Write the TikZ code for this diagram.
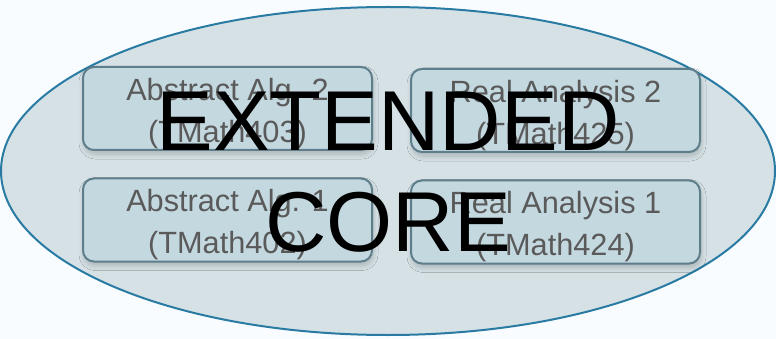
\documentclass[tikz,border=0pt]{standalone}
\usepackage{fontspec}
\setmainfont{Liberation Sans}
\usetikzlibrary{shapes.geometric,shadows.blur}
\definecolor{pagebg}{HTML}{F8FCFE}
\definecolor{corefill}{HTML}{D5E1E5}
\definecolor{coreline}{HTML}{2A7BA3}
\definecolor{coursefill}{HTML}{C4D8E0}
\definecolor{courseline}{HTML}{5F7E8B}
\definecolor{coursetext}{HTML}{5A5A5A}
\tikzset{
  coreshape/.style={ellipse, draw=coreline, fill=corefill, line width=2pt,
    minimum width=774pt, minimum height=328pt, inner sep=0pt},
  coursebox/.style={rounded corners=11pt, draw=courseline, fill=coursefill,
    line width=2pt, minimum width=289pt, minimum height=83pt, inner sep=0pt,
    blur shadow={shadow xshift=1pt, shadow yshift=-4pt, shadow blur steps=8,
      shadow opacity=20, shadow blur radius=5pt}},
  coursetitle/.style={text=coursetext, align=center, inner sep=0pt,
    font=\fontsize{30.7pt}{42pt}\selectfont},
  bigtitle/.style={text=black, align=center, inner sep=0pt,
    font=\fontsize{85pt}{101pt}\selectfont}
}
\begin{document}
\begin{tikzpicture}[x=1pt,y=-1pt]
  \fill[pagebg] (0,0) rectangle (776,339);
  \useasboundingbox (0,0) rectangle (776,339);
  \node[coreshape] (core) at (388,171) {};

  \node[coursebox] (aa2) at (227.5,108.5) {};
  \node[coursebox] (ra2) at (555.5,110.5) {};
  \node[coursebox] (aa1) at (227.5,220) {};
  \node[coursebox] (ra1) at (555.5,222) {};

  \node[coursetitle, yshift=-5pt] (aa2t) at (aa2.center) {Abstract Alg. 2\\(TMath403)};
  \node[coursetitle, yshift=-5pt] (ra2t) at (ra2.center) {Real Analysis 2\\(TMath425)};
  \node[coursetitle, yshift=-5pt] (aa1t) at (aa1.center) {Abstract Alg. 1\\(TMath402)};
  \node[coursetitle, yshift=-5pt] (ra1t) at (ra1.center) {Real Analysis 1\\(TMath424)};

  \node[bigtitle] (title) at (388,172) {EXTENDED\\CORE};
\end{tikzpicture}
\end{document}
